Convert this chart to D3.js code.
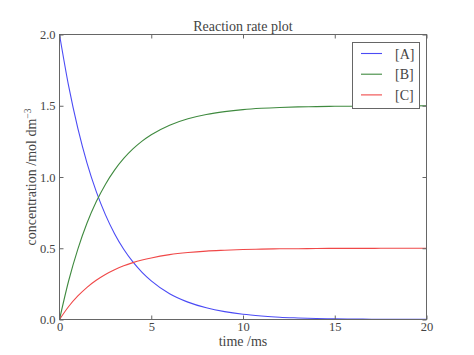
<!DOCTYPE html>
<html><head><meta charset="utf-8">
<script src="https://cdn.jsdelivr.net/npm/d3@7"></script>
<style>body{margin:0;background:#fff}</style>
</head><body><svg id="c" width="474" height="355"></svg>
<script>
const times = [0,0.5,1,1.5,2,2.5,3,3.5,4,4.5,5,6,7,8,9,10,11,12,13,14,15,16,17,18,19,20];
const seriesA = [2.000,1.637,1.341,1.098,0.899,0.736,0.602,0.493,0.404,0.331,0.271,0.181,0.122,0.082,0.055,0.037,0.025,0.016,0.011,0.007,0.005,0.003,0.002,0.001,0.001,0.001];
const seriesB = [0,0.272,0.494,0.677,0.826,0.948,1.048,1.130,1.197,1.252,1.297,1.364,1.409,1.439,1.459,1.473,1.482,1.488,1.492,1.494,1.496,1.497,1.498,1.499,1.499,1.500];
const seriesC = [0,0.091,0.165,0.226,0.275,0.316,0.349,0.377,0.399,0.417,0.432,0.455,0.470,0.480,0.486,0.491,0.494,0.496,0.497,0.498,0.499,0.499,0.499,0.500,0.500,0.500];
const seriesNames = ["[A]","[B]","[C]"];
const seriesColors = ["#4b4bf5","#3f8a3f","#f04848"];
const xTicks = [0,5,10,15,20];
const yTicks = [0,0.5,1.0,1.5,2.0];

const FONT = "'Liberation Serif', 'DejaVu Serif', serif";
const TXT = "#444";
const svg = d3.select("#c");
const L=59.5, R=426.5, T=34.5, B=319.5;
const x = d3.scaleLinear().domain([0,20]).range([L,R]);
const y = d3.scaleLinear().domain([0,2]).range([B,T]);

const line = d3.line().x(d=>x(d[0])).y(d=>y(d[1])).curve(d3.curveMonotoneX);
[seriesA,seriesB,seriesC].forEach((s,i)=>{
  svg.append("path").datum(times.map((t,j)=>[t,s[j]]))
    .attr("d",line).attr("fill","none").attr("stroke",seriesColors[i]).attr("stroke-width",1.1);
});

const axCol="#666";
const gx=svg.append("g").attr("transform",`translate(0,${B})`).call(d3.axisBottom(x).tickValues(xTicks).tickSizeInner(-4).tickSizeOuter(0).tickPadding(3).tickFormat(d3.format("d")));
const gxt=svg.append("g").attr("transform",`translate(0,${T})`).call(d3.axisTop(x).tickValues(xTicks).tickSizeInner(-4).tickSizeOuter(0).tickFormat(""));
const gy=svg.append("g").attr("transform",`translate(${L},0)`).call(d3.axisLeft(y).tickValues(yTicks).tickSizeInner(-4).tickSizeOuter(0).tickPadding(4).tickFormat(d3.format(".1f")));
const gyr=svg.append("g").attr("transform",`translate(${R},0)`).call(d3.axisRight(y).tickValues(yTicks).tickSizeInner(-4).tickSizeOuter(0).tickFormat(""));
[gx,gxt,gy,gyr].forEach(g=>{g.attr("font-family",null).attr("font-size",null);g.select(".domain").remove();g.selectAll("line").attr("stroke",axCol);g.selectAll("text").style("font-size","12.5px").style("font-family",FONT).attr("fill",TXT);});
svg.append("rect").attr("x",L).attr("y",T).attr("width",R-L).attr("height",B-T).attr("fill","none").attr("stroke",axCol).attr("stroke-width",1);

function txt(sel){return sel.style("font-family",FONT).style("font-size","14px").attr("fill",TXT);}
txt(svg.append("text").attr("x",(L+R)/2).attr("y",31).attr("text-anchor","middle")).text("Reaction rate plot");
txt(svg.append("text").attr("x",(L+R)/2).attr("y",346).attr("text-anchor","middle")).text("time /ms");
const yl=txt(svg.append("text").attr("transform",`translate(36,${(T+B)/2}) rotate(-90)`).attr("text-anchor","middle"));
yl.append("tspan").text("concentration /mol dm");
yl.append("tspan").attr("dy",-5).style("font-size","9.5px").text("−3");

const lg=svg.append("g");
lg.append("rect").attr("x",352.5).attr("y",42.5).attr("width",67).attr("height",66).attr("fill","#fff").attr("stroke",axCol);
seriesNames.forEach((n,i)=>{
  const yy=53.5+i*20.7;
  lg.append("line").attr("x1",361).attr("x2",382).attr("y1",yy).attr("y2",yy).attr("stroke",seriesColors[i]).attr("stroke-width",1.1);
  txt(lg.append("text").attr("x",395).attr("y",yy+5)).text(n);
});
</script></body></html>
